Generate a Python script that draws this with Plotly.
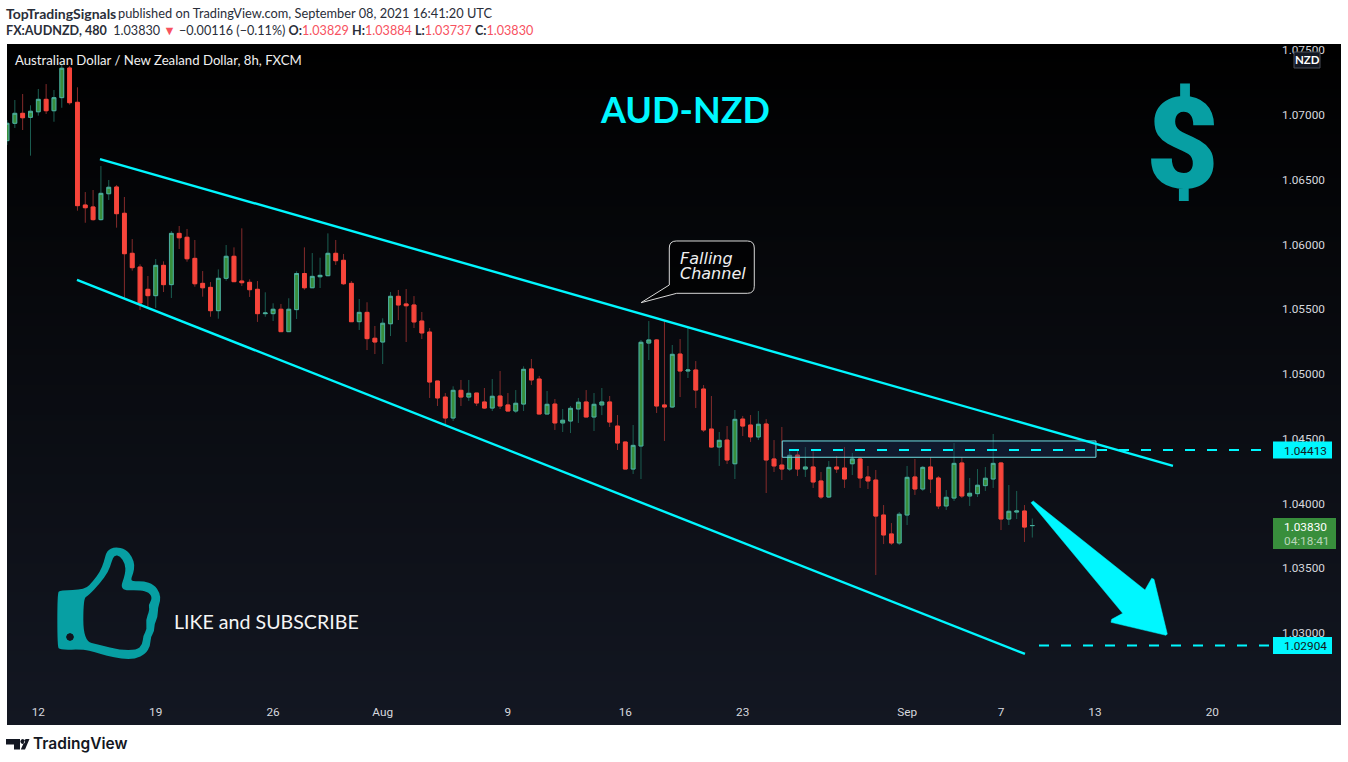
import plotly.graph_objects as go

# ---------- chart data (8h AUD/NZD bars) ----------
opens = [1.06802,1.06936,1.07013,1.06982,1.07025,1.07121,1.07033,1.07134,1.07363,1.07098,1.06305,1.06290,1.06192,1.06392,1.06444,1.06241,1.05932,1.05826,1.05654,1.05605,1.05839,1.05690,1.06086,1.06056,1.05893,1.05700,1.05669,1.05489,1.05739,1.05909,1.05718,1.05708,1.05654,1.05466,1.05466,1.05500,1.05327,1.05497,1.05776,1.05666,1.05751,1.05759,1.05932,1.05878,1.05700,1.05404,1.05476,1.05276,1.05247,1.05388,1.05600,1.05541,1.05533,1.05409,1.05324,1.04946,1.04822,1.04660,1.04874,1.04822,1.04853,1.04784,1.04737,1.04830,1.04761,1.04714,1.04768,1.05039,1.04961,1.04691,1.04768,1.04622,1.04637,1.04730,1.04784,1.04668,1.04761,1.04784,1.04598,1.04475,1.04266,1.04444,1.05239,1.05263,1.04761,1.04745,1.05154,1.05023,1.05031,1.04884,1.04575,1.04436,1.04490,1.04307,1.04652,1.04606,1.04514,1.04614,1.04344,1.04297,1.04266,1.04374,1.04266,1.04282,1.04174,1.04050,1.04282,1.04274,1.04307,1.04344,1.04205,1.04181,1.03911,1.03765,1.03695,1.03911,1.04205,1.04112,1.04282,1.04197,1.03981,1.04042,1.04313,1.04058,1.04076,1.04138,1.04189,1.04313,1.03880,1.03934,1.03942,1.03829]
highs = [1.06961,1.07116,1.07162,1.07075,1.07201,1.07239,1.07193,1.07402,1.07378,1.07214,1.06405,1.06421,1.06606,1.06498,1.06459,1.06367,1.06042,1.05847,1.05757,1.05888,1.05870,1.06104,1.06143,1.06120,1.06035,1.05795,1.05710,1.05808,1.05996,1.05978,1.06125,1.05731,1.05718,1.05631,1.05546,1.05541,1.05585,1.05793,1.05978,1.05934,1.05898,1.06086,1.06035,1.05927,1.05718,1.05579,1.05554,1.05371,1.05430,1.05633,1.05649,1.05656,1.05602,1.05479,1.05355,1.04946,1.04853,1.04905,1.04954,1.04954,1.04853,1.04892,1.04961,1.05023,1.04853,1.04876,1.05059,1.05116,1.04985,1.04869,1.04807,1.04730,1.04753,1.04815,1.04876,1.04853,1.04892,1.04830,1.04683,1.04475,1.04606,1.05263,1.05409,1.05270,1.05417,1.05224,1.05270,1.05355,1.05100,1.04915,1.04830,1.04552,1.04598,1.04722,1.04676,1.04683,1.04714,1.04652,1.04490,1.04591,1.04405,1.04413,1.04436,1.04413,1.04243,1.04328,1.04367,1.04436,1.04390,1.04359,1.04290,1.04259,1.03988,1.03849,1.03934,1.04290,1.04344,1.04290,1.04359,1.04212,1.04104,1.04467,1.04359,1.04197,1.04266,1.04282,1.04537,1.04321,1.04143,1.04097,1.03988,1.03884]
lows = [1.06768,1.06900,1.06884,1.06686,1.06995,1.07008,1.06948,1.07056,1.07080,1.06261,1.06168,1.06184,1.06185,1.06344,1.06130,1.05587,1.05798,1.05494,1.05515,1.05510,1.05633,1.05587,1.05965,1.05867,1.05674,1.05597,1.05442,1.05427,1.05720,1.05710,1.05680,1.05595,1.05402,1.05442,1.05409,1.05327,1.05327,1.05425,1.05651,1.05666,1.05664,1.05759,1.05842,1.05687,1.05404,1.05340,1.05185,1.05154,1.05077,1.05293,1.05417,1.05247,1.05355,1.05270,1.04815,1.04753,1.04606,1.04637,1.04753,1.04792,1.04753,1.04730,1.04714,1.04730,1.04714,1.04699,1.04714,1.04915,1.04691,1.04691,1.04568,1.04552,1.04544,1.04622,1.04668,1.04560,1.04683,1.04591,1.04413,1.04266,1.04228,1.04189,1.05108,1.04699,1.04483,1.04737,1.04822,1.04969,1.04737,1.04552,1.04429,1.04290,1.04305,1.04189,1.04521,1.04475,1.04490,1.04081,1.04243,1.04181,1.04251,1.04212,1.04205,1.04120,1.04035,1.04042,1.04236,1.04120,1.04220,1.04120,1.04112,1.03448,1.03687,1.03680,1.03680,1.03834,1.04066,1.04097,1.04081,1.03957,1.03950,1.04019,1.04042,1.03981,1.04050,1.04097,1.04120,1.03795,1.03834,1.03880,1.03703,1.03737]
closes = [1.06936,1.07013,1.06979,1.07029,1.07121,1.07033,1.07134,1.07361,1.07095,1.06300,1.06284,1.06192,1.06395,1.06442,1.06238,1.05929,1.05821,1.05548,1.05605,1.05839,1.05690,1.06086,1.06052,1.05890,1.05697,1.05666,1.05489,1.05739,1.05909,1.05713,1.05705,1.05651,1.05466,1.05471,1.05500,1.05327,1.05500,1.05776,1.05666,1.05754,1.05762,1.05932,1.05875,1.05697,1.05404,1.05476,1.05273,1.05247,1.05392,1.05600,1.05533,1.05527,1.05402,1.05317,1.04938,1.04815,1.04660,1.04874,1.04822,1.04851,1.04776,1.04737,1.04828,1.04753,1.04714,1.04774,1.05036,1.04954,1.04691,1.04766,1.04622,1.04643,1.04735,1.04782,1.04668,1.04766,1.04784,1.04629,1.04467,1.04266,1.04449,1.05245,1.05263,1.04753,1.04745,1.05152,1.05023,1.05031,1.04876,1.04568,1.04436,1.04488,1.04336,1.04650,1.04598,1.04514,1.04612,1.04336,1.04290,1.04266,1.04372,1.04266,1.04282,1.04166,1.04050,1.04279,1.04266,1.04189,1.04344,1.04197,1.04174,1.03903,1.03757,1.03695,1.03917,1.04202,1.04112,1.04279,1.04189,1.03981,1.04048,1.04310,1.04058,1.04079,1.04141,1.04195,1.04310,1.03880,1.03940,1.03942,1.03818,1.03830]

# tick labels
x_tick_bars = [4, 19, 34, 48, 64, 79, 94, 115, 127, 139, 154]
x_tick_text = ["12", "19", "26", "Aug", "9", "16", "23", "Sep", "7", "13", "20"]
y_ticks = [1.03, 1.035, 1.04, 1.045, 1.05, 1.055, 1.06, 1.065, 1.07, 1.075]

# annotated levels
target_top = 1.04413
target_bottom = 1.02904
last_price = 1.03830

# channel lines: (bar, price)
upper_line = [(11.88, 1.06660), (148.97, 1.04290)]
lower_line = [(8.94, 1.05726), (130.06, 1.02838)]
zone_bars = (99.05, 139.13)
zone_prices = (1.04357, 1.04483)

# ---------- frame ----------
W, H = 1348, 762
L, R, T, B = 7, 1341, 44, 725
X_RANGE = [0, 170.44]
Y_RANGE = [1.022896, 1.075483]
FONT = "Lato"
TICKFONT = "Roboto"
CYAN = "#00f7ff"
TEAL = "#079fa3"

def PX(x): return (x - L) / (R - L)
def PY(y): return (B - y) / (B - T)
def path_of(pts):
    return "M " + " L ".join(f"{PX(x):.5f},{PY(y):.5f}" for x, y in pts) + " Z "
def smooth_of(pts):
    n = len(pts)
    mid = [((pts[i][0] + pts[(i + 1) % n][0]) / 2, (pts[i][1] + pts[(i + 1) % n][1]) / 2) for i in range(n)]
    s = f"M {PX(mid[-1][0]):.5f},{PY(mid[-1][1]):.5f} "
    for i in range(n):
        s += f"Q {PX(pts[i][0]):.5f},{PY(pts[i][1]):.5f} {PX(mid[i][0]):.5f},{PY(mid[i][1]):.5f} "
    return s + "Z "

bars = list(range(len(opens)))
body_hi = [max(o, c) for o, c in zip(opens, closes)]
body_lo = [min(o, c) for o, c in zip(opens, closes)]

fig = go.Figure()

# background gradient
fig.add_trace(go.Heatmap(x=X_RANGE, y=Y_RANGE, z=[[0, 0], [1, 1]], zsmooth="best",
                         colorscale=[[0, "#131722"], [1, "#000000"]], showscale=False,
                         hoverinfo="skip", zmin=0, zmax=1))
# zone rectangle
fig.add_trace(go.Scatter(
    x=[zone_bars[0], zone_bars[1], zone_bars[1], zone_bars[0], zone_bars[0]],
    y=[zone_prices[0], zone_prices[0], zone_prices[1], zone_prices[1], zone_prices[0]],
    mode="lines", fill="toself", fillcolor="rgba(25,50,95,0.35)",
    line=dict(color="#6fdde2", width=1), hoverinfo="skip", showlegend=False))
# wicks
fig.add_trace(go.Candlestick(x=bars, open=opens, high=highs, low=lows, close=closes,
                             whiskerwidth=0, showlegend=False,
                             increasing=dict(line=dict(color="#1b5e52", width=1), fillcolor="rgba(0,0,0,0)"),
                             decreasing=dict(line=dict(color="#842b2b", width=1), fillcolor="rgba(0,0,0,0)")))
# bodies
fig.add_trace(go.Candlestick(x=bars, open=opens, high=body_hi, low=body_lo, close=closes,
                             whiskerwidth=0, showlegend=False,
                             increasing=dict(line=dict(color="#4caf9f", width=1), fillcolor="#388e3c"),
                             decreasing=dict(line=dict(color="#f7453b", width=1), fillcolor="#f7453b")))

shapes = []
# channel
for ln in (upper_line, lower_line):
    shapes.append(dict(type="line", xref="x", yref="y", x0=ln[0][0], y0=ln[0][1], x1=ln[1][0], y1=ln[1][1],
                       line=dict(color=CYAN, width=2.4)))
# dashed target lines
shapes.append(dict(type="line", xref="paper", yref="y", x0=PX(789), x1=PX(1265), y0=target_top, y1=target_top,
                   line=dict(color=CYAN, width=2, dash="10px,12px")))
shapes.append(dict(type="line", xref="paper", yref="y", x0=PX(1039), x1=PX(1271), y0=target_bottom, y1=target_bottom,
                   line=dict(color=CYAN, width=2, dash="10px,12px")))
# price labels
for p, col, x1, dy0, dy1 in [(target_top, CYAN, 1332, -8.5, 8.5), (target_bottom, CYAN, 1332, -8.5, 8.5),
                             (last_price, "#388e3c", 1336, -7.5, 23.5)]:
    yc = 115 + (1.07 - p) * 12950
    shapes.append(dict(type="rect", xref="paper", yref="paper", x0=PX(1273), x1=PX(x1),
                       y0=PY(yc + dy1), y1=PY(yc + dy0), line=dict(width=0), fillcolor=col))
# NZD badge
shapes.append(dict(type="rect", xref="paper", yref="paper", x0=PX(1294), x1=PX(1320), y0=PY(68), y1=PY(52),
                   line=dict(color="#4a4e58", width=1), fillcolor="#131722"))
# arrow
arrow = [(1031, 502.7), (1033.3, 501), (1145, 590), (1151.7, 578.3), (1154, 579.3), (1167.3, 634), (1166, 635.3),
         (1111, 622.3), (1111.7, 619.3), (1122.7, 613.3)]
shapes.append(dict(type="path", xref="paper", yref="paper", path=path_of(arrow), fillcolor=CYAN,
                   line=dict(color=CYAN, width=0.5)))
# callout
r = 7
callout = (f"M {PX(669.3+r):.5f},{PY(241):.5f} L {PX(754.3-r):.5f},{PY(241):.5f} "
           f"Q {PX(754.3):.5f},{PY(241):.5f} {PX(754.3):.5f},{PY(241+r):.5f} "
           f"L {PX(754.3):.5f},{PY(293.3-r):.5f} Q {PX(754.3):.5f},{PY(293.3):.5f} {PX(754.3-r):.5f},{PY(293.3):.5f} "
           f"L {PX(676.7):.5f},{PY(293.3):.5f} L {PX(641):.5f},{PY(302.7):.5f} L {PX(669.3):.5f},{PY(285):.5f} "
           f"L {PX(669.3):.5f},{PY(241+r):.5f} Q {PX(669.3):.5f},{PY(241):.5f} {PX(669.3+r):.5f},{PY(241):.5f} Z")
shapes.append(dict(type="path", xref="paper", yref="paper", path=callout, fillcolor="rgba(0,0,0,0.6)",
                   line=dict(color="#d8d8d8", width=1)))
# thumb icon (outer contour + inner hole + dot), traced in 3x crop coordinates
def Z(p): return [(x / 3, 530 + y / 3) for x, y in p]
thumb_outer = Z([(180,180),(255,180),(280,152),(300,125),(312,95),(320,62),(345,50),(378,58),(397,82),(404,105),(400,130),(390,155),
                 (430,153),(462,163),(480,190),(481,212),(474,232),(473,262),(463,282),(463,305),(452,320),(451,347),(437,372),(405,387),
                 (365,387),(320,377),(285,367),(250,358),(180,360),(172,350),(172,190)])
thumb_inner = Z([(250,205),(265,197),(300,160),(325,125),(335,95),(343,75),(360,78),(375,100),(377,130),(358,182),(420,180),(447,187),
                 (457,205),(445,225),(449,240),(437,270),(441,298),(430,315),(427,345),(410,360),(360,360),(300,345),(250,333)])
dot_c = (70, 637)
dot_pts = [(dot_c[0] + 4 * a, dot_c[1] + 4 * b) for a, b in [(1,0),(.7,.7),(0,1),(-.7,.7),(-1,0),(-.7,-.7),(0,-1),(.7,-.7)]]
shapes.append(dict(type="path", xref="paper", yref="paper",
                   path=smooth_of(thumb_outer) + smooth_of(thumb_inner) + path_of(dot_pts),
                   fillcolor=TEAL, line=dict(width=0)))
# TradingView logo
tv_t = [(6, 739), (20, 739), (20, 749.5), (14, 749.5), (14, 744.5), (6, 744.5)]
tv_s = [(25.5, 739), (29.5, 739), (25, 749.5), (20.8, 749.5)]
tv_dot = [(22.7 + 2.4 * a, 741.5 + 2.4 * b) for a, b in [(1,0),(.7,.7),(0,1),(-.7,.7),(-1,0),(-.7,-.7),(0,-1),(.7,-.7)]]
shapes.append(dict(type="path", xref="paper", yref="paper", path=path_of(tv_t) + path_of(tv_s) + path_of(tv_dot),
                   fillcolor="#131722", line=dict(width=0)))

def note(x, y, text, size, color, anchor="left", family=FONT, **kw):
    return dict(x=PX(x - 1.5 if anchor == "left" else x), y=PY(y), xref="paper", yref="paper", text=text,
                showarrow=False, xanchor=anchor, yanchor="middle",
                font=dict(family=family, size=size, color=color, **kw), align="left", borderpad=0)

RED = "#f7525f"
head2 = (f"<b>FX:AUDNZD, 480</b>  1.03830 <span style='color:{RED}'>▼</span> −0.00116 (−0.11%) "
         f"<b>O:</b><span style='color:{RED}'>1.03829</span> <b>H:</b><span style='color:{RED}'>1.03884</span> "
         f"<b>L:</b><span style='color:{RED}'>1.03737</span> <b>C:</b><span style='color:{RED}'>1.03830</span>")
annotations = [
    note(6, 13, "<b>TopTradingSignals</b>", 14, "#2a2e39"),
    note(118.5, 13, "published on TradingView.com, September 08, 2021 16:41:20 UTC", 12.8, "#2a2e39"),
    note(6, 30, head2, 12.6, "#2a2e39"),
    note(15, 60, "Australian Dollar / New Zealand Dollar, 8h, FXCM", 13.2, "#f0f0f0"),
    note(685, 109, "AUD-NZD", 36, CYAN, anchor="center", weight=700),
    note(1182, 145, "$", 126, TEAL, anchor="center", family="Roboto", weight=900),
    note(174, 621, "LIKE and SUBSCRIBE", 19.6, "#f5f5f5"),
    note(680, 258, "<i>Falling</i>", 16, "#f0f0f0", family="DejaVu Sans"),
    note(680, 273.5, "<i>Channel</i>", 16, "#f0f0f0", family="DejaVu Sans"),
    note(1284, 451, "1.04413", 11.8, "#131722", family=TICKFONT),
    note(1284, 646, "1.02904", 11.8, "#131722", family=TICKFONT),
    note(1284, 526.5, "1.03830", 11.8, "#ffffff", family=TICKFONT),
    note(1284, 541, "04:18:41", 11.8, "#b9d6ba", family=TICKFONT),
    note(1307, 60, "<b>NZD</b>", 11.5, "#ffffff", anchor="center"),
    note(33, 743, "TradingView", 15.5, "#131722", family="Inter", weight=600),
]

fig.update_layout(
    width=W, height=H, margin=dict(l=L, r=W - R, t=T, b=H - B, pad=0),
    paper_bgcolor="#ffffff", plot_bgcolor="#000000", showlegend=False, boxmode="overlay", boxgap=0.3,
    shapes=shapes, annotations=annotations, hovermode=False,
    xaxis=dict(range=X_RANGE, tickmode="array", tickvals=x_tick_bars, ticktext=x_tick_text,
               showgrid=False, zeroline=False, showline=False, ticks="", rangeslider=dict(visible=False),
               anchor="free", position=0.0323, tickfont=dict(family=TICKFONT, size=11.8, color="#d6d8de")),
    yaxis=dict(range=Y_RANGE, tickmode="array", tickvals=y_ticks, tickformat=".5f", side="right",
               showgrid=False, zeroline=False, showline=False, ticks="", anchor="free",
               position=PX(1281), tickfont=dict(family=TICKFONT, size=11.8, color="#d6d8de")),
)

fig.write_html("out.html", config=dict(displayModeBar=False),
               post_script="document.body.style.margin='0';document.body.style.overflow='hidden';")
